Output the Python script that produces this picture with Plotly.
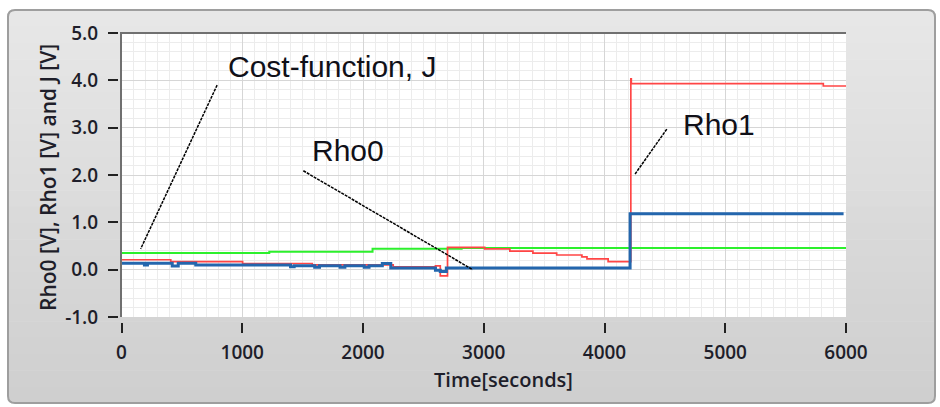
import plotly.graph_objects as go

# ---------------- data ----------------
j_time = [0, 1224, 2079, 2817, 6000]
j_val = [0.35, 0.38, 0.44, 0.46, 0.46]

rho0_time = [0, 408, 1003, 1580, 2250, 2600, 2640, 2700, 3008, 3216, 3407, 3604,
             3813, 3855, 4030, 4218, 4222, 5812, 6000]
rho0_val = [0.21, 0.17, 0.13, 0.10, 0.06, 0.08, -0.13, 0.47, 0.44, 0.39, 0.35, 0.31,
            0.27, 0.23, 0.17, 4.03, 3.93, 3.88, 3.88]

rho1_time = [0, 190, 215, 420, 470, 615, 1400, 1430, 1600, 1640, 1810, 1850, 2010,
             2050, 2160, 2230, 2600, 2640, 2690, 4212, 5980]
rho1_val = [0.135, 0.10, 0.135, 0.08, 0.135, 0.10, 0.06, 0.085, 0.05, 0.085, 0.05,
            0.085, 0.05, 0.085, 0.13, 0.035, -0.01, -0.04, 0.035, 1.18, 1.18]

x_ticks = [0, 1000, 2000, 3000, 4000, 5000, 6000]
y_ticks = [-1.0, 0.0, 1.0, 2.0, 3.0, 4.0, 5.0]

label_texts = ["Cost-function, J", "Rho0", "Rho1"]
label_x = [866, 1560, 4635]
label_y = [4.29, 2.51, 3.06]
leader_x0 = [792, 1506, 4516]
leader_y0 = [3.90, 2.09, 2.97]
leader_x1 = [159, 2909, 4253]
leader_y1 = [0.44, 0.0, 2.02]

x_title = "Time[seconds]"
y_title = "Rho0 [V], Rho1 [V] and J [V]"

# ---------------- layout geometry (pixels) ----------------
W, H = 940, 407
ML, MR, MT, MB = 118, 94, 33, 85
PW, PH = W - ML - MR, H - MT - MB
PLOT_L, PLOT_R, PLOT_T, PLOT_B = 121.5, 846, 33, 317


def px(xp):
    return (xp - ML) / PW


def py(yp):
    return (H - MB - yp) / PH


def rounded_path(x0p, x1p, y0p, y1p, r, top=True, bottom=True):
    x0, x1, yt, yb = px(x0p), px(x1p), py(y0p), py(y1p)
    rx, ry = r / PW, r / PH
    s = ""
    if top:
        s += f"M {x0+rx},{yt} L {x1-rx},{yt} Q {x1},{yt} {x1},{yt-ry} "
    else:
        s += f"M {x0},{yt} L {x1},{yt} "
    if bottom:
        s += f"L {x1},{yb+ry} Q {x1},{yb} {x1-rx},{yb} L {x0+rx},{yb} Q {x0},{yb} {x0},{yb+ry} "
    else:
        s += f"L {x1},{yb} L {x0},{yb} "
    if top:
        s += f"L {x0},{yt-ry} Q {x0},{yt} {x0+rx},{yt} Z"
    else:
        s += "Z"
    return s


fig = go.Figure()
fig.add_trace(go.Scatter(x=j_time, y=j_val, mode="lines", line_shape="hv",
                         line=dict(color="#2cf02c", width=2), showlegend=False))
fig.add_trace(go.Scatter(x=rho0_time, y=rho0_val, mode="lines", line_shape="hv",
                         line=dict(color="#ff4545", width=1.7), showlegend=False))
fig.add_trace(go.Scatter(x=rho1_time, y=rho1_val, mode="lines", line_shape="hv",
                         line=dict(color="#2366ad", width=3), showlegend=False))

shapes = []
# panel gradient
PAN_L, PAN_R, PAN_T, PAN_B, RAD = 8, 935, 10, 403, 7
N = 24
c_top, c_bot = 231, 207
step = (PAN_B - PAN_T) / N
for i in range(N):
    t0 = PAN_T + i * step
    t1 = PAN_T + (i + 1) * step + (0.6 if i < N - 1 else 0)
    c = round(c_top + (c_bot - c_top) * i / (N - 1))
    col = f"rgb({c},{c},{c})"
    shapes.append(dict(type="path", xref="paper", yref="paper", layer="below",
                       path=rounded_path(PAN_L, PAN_R, t0, t1, RAD, top=(i == 0), bottom=(i == N - 1)),
                       fillcolor=col, line=dict(width=0)))
shapes.append(dict(type="path", xref="paper", yref="paper", layer="below",
                   path=rounded_path(PAN_L, PAN_R, PAN_T, PAN_B, RAD),
                   fillcolor="rgba(0,0,0,0)", line=dict(color="#9e9e9e", width=2)))
# white plot area
shapes.append(dict(type="rect", xref="paper", yref="paper", layer="below",
                   x0=px(PLOT_L), x1=px(PLOT_R), y0=py(PLOT_B), y1=py(PLOT_T),
                   fillcolor="white", line=dict(width=0)))
# frame (top and left)
shapes.append(dict(type="line", xref="paper", yref="paper", layer="above",
                   x0=px(120), x1=px(PLOT_R), y0=py(PLOT_T), y1=py(PLOT_T),
                   line=dict(color="#707070", width=2)))
shapes.append(dict(type="line", xref="paper", yref="paper", layer="above",
                   x0=px(121), x1=px(121), y0=py(PLOT_T), y1=py(PLOT_B),
                   line=dict(color="#707070", width=2)))
# leader lines
for a, b, c2, d in zip(leader_x0, leader_y0, leader_x1, leader_y1):
    shapes.append(dict(type="line", xref="x", yref="y", layer="above",
                       x0=a, y0=b, x1=c2, y1=d,
                       line=dict(color="#000000", width=1.5, dash="3px,1px")))

annotations = []
for t, x, y in zip(label_texts, label_x, label_y):
    annotations.append(dict(x=x, y=y, xref="x", yref="y", text=t, showarrow=False,
                            xanchor="left", yanchor="middle",
                            font=dict(family="Liberation Sans, Arial", size=30, color="#101018")))
annotations.append(dict(x=px(503), y=py(379), xref="paper", yref="paper", text=x_title,
                        showarrow=False, xanchor="center", yanchor="middle",
                        font=dict(family="Open Sans", size=20, color="#1e1e2a", weight=600)))
annotations.append(dict(x=px(47.5), y=py(177.5), xref="paper", yref="paper", text=y_title,
                        showarrow=False, xanchor="center", yanchor="middle", textangle=-90,
                        font=dict(family="Open Sans", size=21, color="#1e1e2a", weight=600)))

tick_font = dict(family="Open Sans", size=19, color="#1e1e2a", weight=600)
fig.update_layout(
    width=W, height=H,
    margin=dict(l=ML, r=MR, t=MT, b=MB, pad=0),
    paper_bgcolor="white", plot_bgcolor="white",
    shapes=shapes, annotations=annotations,
    xaxis=dict(range=[0, 6000], domain=[px(PLOT_L), 1], anchor="free", position=0,
               tickvals=x_ticks, ticktext=[str(v) for v in x_ticks],
               ticks="outside", ticklen=10, tickwidth=2, tickcolor="#222222",
               showline=False, zeroline=False,
               showgrid=True, gridcolor="#d6d6d6", gridwidth=1,
               minor=dict(dtick=100, showgrid=True, gridcolor="#ececec", gridwidth=1, ticks=""),
               tickfont=tick_font, ticklabelstandoff=3),
    yaxis=dict(range=[-1, 5], domain=[py(PLOT_B), 1], anchor="free", position=0,
               tickvals=y_ticks, ticktext=[f"{v:.1f}" for v in y_ticks],
               ticks="outside", ticklen=10, tickwidth=2, tickcolor="#222222",
               showline=False, zeroline=False,
               showgrid=True, gridcolor="#d6d6d6", gridwidth=1,
               minor=dict(dtick=0.2, showgrid=True, gridcolor="#ececec", gridwidth=1, ticks=""),
               tickfont=tick_font, ticklabelstandoff=6),
)

fig.write_html("out.html")
